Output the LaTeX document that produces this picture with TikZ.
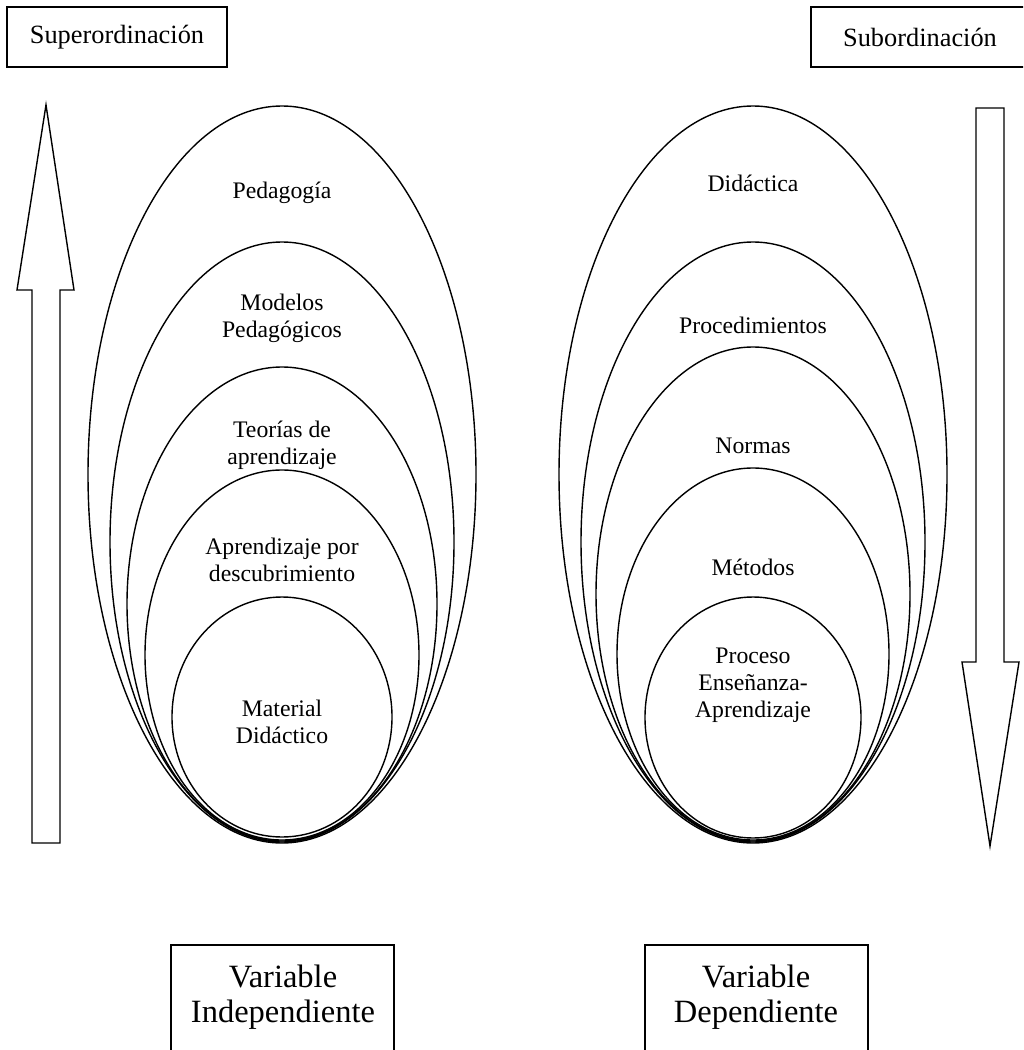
\documentclass[tikz,border=0pt]{standalone}
\usepackage{fontspec}
\setmainfont{Liberation Serif}
\tikzset{
  ring/.style={line width=0.8pt},
  ringtext/.style={align=center, inner sep=0pt, font=\fontsize{13.5}{15.5}\selectfont},
  headbox/.style={draw, line width=0.8pt, minimum width=#1, minimum height=1.2cm,
    inner sep=0pt, font=\fontsize{15}{17}\selectfont},
  vartext/.style={align=center, inner sep=0pt, font=\fontsize{18.5}{20}\selectfont}
}
\begin{document}
\begin{tikzpicture}[x=0.02cm, y=-0.02cm]
  \clip (0,0) rectangle (1023,1050);

  % Heading boxes
  \node [headbox=4.4cm] (super) at (117,37) {Superordinación};
  \node [headbox=4.36cm] (sub) at (920,37) {Subordinación};

  % Arrow up (left)
  \draw [ring] (32,843) -- (32,290) -- (17,290) -- (46,105) -- (74,290) -- (60,290) -- (60,843) -- cycle;

  % Arrow down (right)
  \draw [ring] (976,108) -- (1004,108) -- (1004,662) -- (1019,662) -- (990,846) -- (962,662) -- (976,662) -- cycle;

  % Left nest of ellipses
  \draw [ring] (282,474.5) ellipse [x radius=194, y radius=368.5];
  \draw [ring] (282,542) ellipse [x radius=172, y radius=300];
  \draw [ring] (282,604) ellipse [x radius=155, y radius=237];
  \draw [ring] (282,655) ellipse [x radius=137, y radius=185];
  \draw [ring] (282,717) ellipse [x radius=110, y radius=120];

  \node [ringtext] (pedagogia) at (282,193) {Pedagogía};
  \node [ringtext] (modelos) at (282,318) {Modelos\\Pedagógicos};
  \node [ringtext] (teorias) at (282,445) {Teorías de\\aprendizaje};
  \node [ringtext] (descub) at (282,560) {Aprendizaje por\\descubrimiento};
  \node [ringtext] (material) at (282,722) {Material\\Didáctico};

  % Right nest of ellipses
  \draw [ring] (753,474.5) ellipse [x radius=194, y radius=368.5];
  \draw [ring] (753,542) ellipse [x radius=172, y radius=300];
  \draw [ring] (753,594) ellipse [x radius=157, y radius=247];
  \draw [ring] (753,654) ellipse [x radius=136, y radius=186];
  \draw [ring] (753,717.5) ellipse [x radius=108, y radius=120.5];

  \node [ringtext] (didactica) at (753,183) {Didáctica};
  \node [ringtext] (proced) at (753,325) {Procedimientos};
  \node [ringtext] (normas) at (753,446) {Normas};
  \node [ringtext] (metodos) at (753,567) {Métodos};
  \node [ringtext] (proceso) at (753,685) {Proceso\\Enseñanza-\\Aprendizaje};

  % Variable boxes, open at the bottom edge
  \draw [ring] (171,1060) -- (171,945) -- (394,945) -- (394,1060);
  \node [vartext] (indep) at (283,997) {Variable\\Independiente};
  \draw [ring] (645,1060) -- (645,945) -- (868,945) -- (868,1060);
  \node [vartext] (dep) at (756,997) {Variable\\Dependiente};
\end{tikzpicture}
\end{document}
